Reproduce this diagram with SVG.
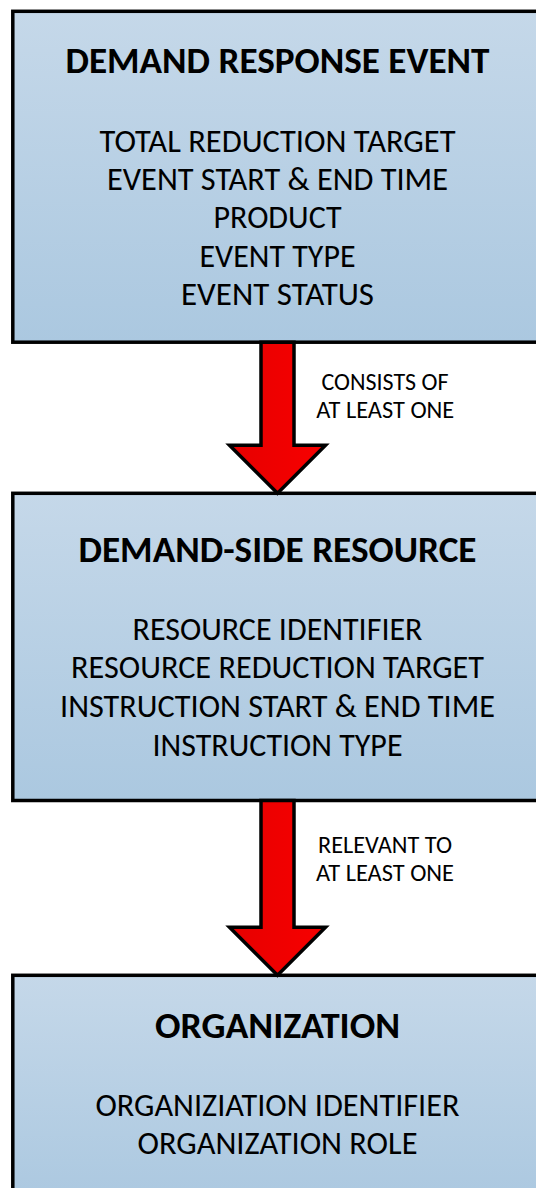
<svg xmlns="http://www.w3.org/2000/svg" width="536" height="1188" viewBox="0 0 536 1188">
  <defs>
    <linearGradient id="boxFill" x1="0" y1="0" x2="0" y2="1">
      <stop offset="0" stop-color="#c5d8e9"/>
      <stop offset="1" stop-color="#abc8e0"/>
    </linearGradient>
    <linearGradient id="arrowFill" x1="0" y1="0" x2="1" y2="0">
      <stop offset="0" stop-color="#e60000"/>
      <stop offset="1" stop-color="#f80000"/>
    </linearGradient>
    <style>
      .box { fill: url(#boxFill); stroke: #000; stroke-width: 3.5; }
      .arrow { fill: url(#arrowFill); stroke: #000; stroke-width: 3.5; stroke-linejoin: miter; }
      text { font-family: Carlito, "Open Sans", "Noto Sans", "Liberation Sans", sans-serif; fill: #000; text-anchor: middle; }
      .title { font-size: 37px; font-weight: 700; }
      .item { font-size: 32px; }
      .label { font-size: 23.5px; }
    </style>
  </defs>

  <rect x="0" y="0" width="536" height="1188" fill="#fff"/>

  <!-- entity boxes -->
  <g id="node-event">
    <rect class="box" x="12.8" y="11.3" width="540" height="330.9"/>
    <text class="title" x="277.5" y="72.7" textLength="424" lengthAdjust="spacingAndGlyphs">DEMAND RESPONSE EVENT</text>
    <text class="item" x="277.5" y="151.7" textLength="356" lengthAdjust="spacingAndGlyphs">TOTAL REDUCTION TARGET</text>
    <text class="item" x="277.5" y="190" textLength="341" lengthAdjust="spacingAndGlyphs">EVENT START &amp; END TIME</text>
    <text class="item" x="277.5" y="228.3" textLength="128" lengthAdjust="spacingAndGlyphs">PRODUCT</text>
    <text class="item" x="277.5" y="266.7" textLength="156" lengthAdjust="spacingAndGlyphs">EVENT TYPE</text>
    <text class="item" x="277.5" y="305" textLength="193" lengthAdjust="spacingAndGlyphs">EVENT STATUS</text>
  </g>

  <g id="node-resource">
    <rect class="box" x="12.8" y="493.3" width="540" height="307.2"/>
    <text class="title" x="277.5" y="561.7" textLength="398" lengthAdjust="spacingAndGlyphs">DEMAND-SIDE RESOURCE</text>
    <text class="item" x="277.5" y="640" textLength="290" lengthAdjust="spacingAndGlyphs">RESOURCE IDENTIFIER</text>
    <text class="item" x="277.5" y="678.3" textLength="413" lengthAdjust="spacingAndGlyphs">RESOURCE REDUCTION TARGET</text>
    <text class="item" x="277.5" y="717.3" textLength="435" lengthAdjust="spacingAndGlyphs">INSTRUCTION START &amp; END TIME</text>
    <text class="item" x="277.5" y="756" textLength="250" lengthAdjust="spacingAndGlyphs">INSTRUCTION TYPE</text>
  </g>

  <g id="node-organization">
    <rect class="box" x="12.8" y="975.3" width="540" height="230"/>
    <text class="title" x="277.5" y="1038.3" textLength="245" lengthAdjust="spacingAndGlyphs">ORGANIZATION</text>
    <text class="item" x="277.5" y="1115.7" textLength="364" lengthAdjust="spacingAndGlyphs">ORGANIZIATION IDENTIFIER</text>
    <text class="item" x="277.5" y="1154" textLength="280" lengthAdjust="spacingAndGlyphs">ORGANIZATION ROLE</text>
  </g>

  <!-- block arrows between the entities -->
  <g id="connectors">
    <path class="arrow" d="M261 342.2 L294 342.2 L294 445.3 L325.5 445.3 L277.5 493.3 L229.5 445.3 L261 445.3 Z"/>
    <text class="label" x="385" y="390" textLength="127" lengthAdjust="spacingAndGlyphs">CONSISTS OF</text>
    <text class="label" x="385.3" y="418" textLength="138" lengthAdjust="spacingAndGlyphs">AT LEAST ONE</text>

    <path class="arrow" d="M261 800.5 L294 800.5 L294 927.3 L325.5 927.3 L277.5 975.3 L229.5 927.3 L261 927.3 Z"/>
    <text class="label" x="385" y="853" textLength="134" lengthAdjust="spacingAndGlyphs">RELEVANT TO</text>
    <text class="label" x="385" y="881" textLength="138" lengthAdjust="spacingAndGlyphs">AT LEAST ONE</text>
  </g>
</svg>
